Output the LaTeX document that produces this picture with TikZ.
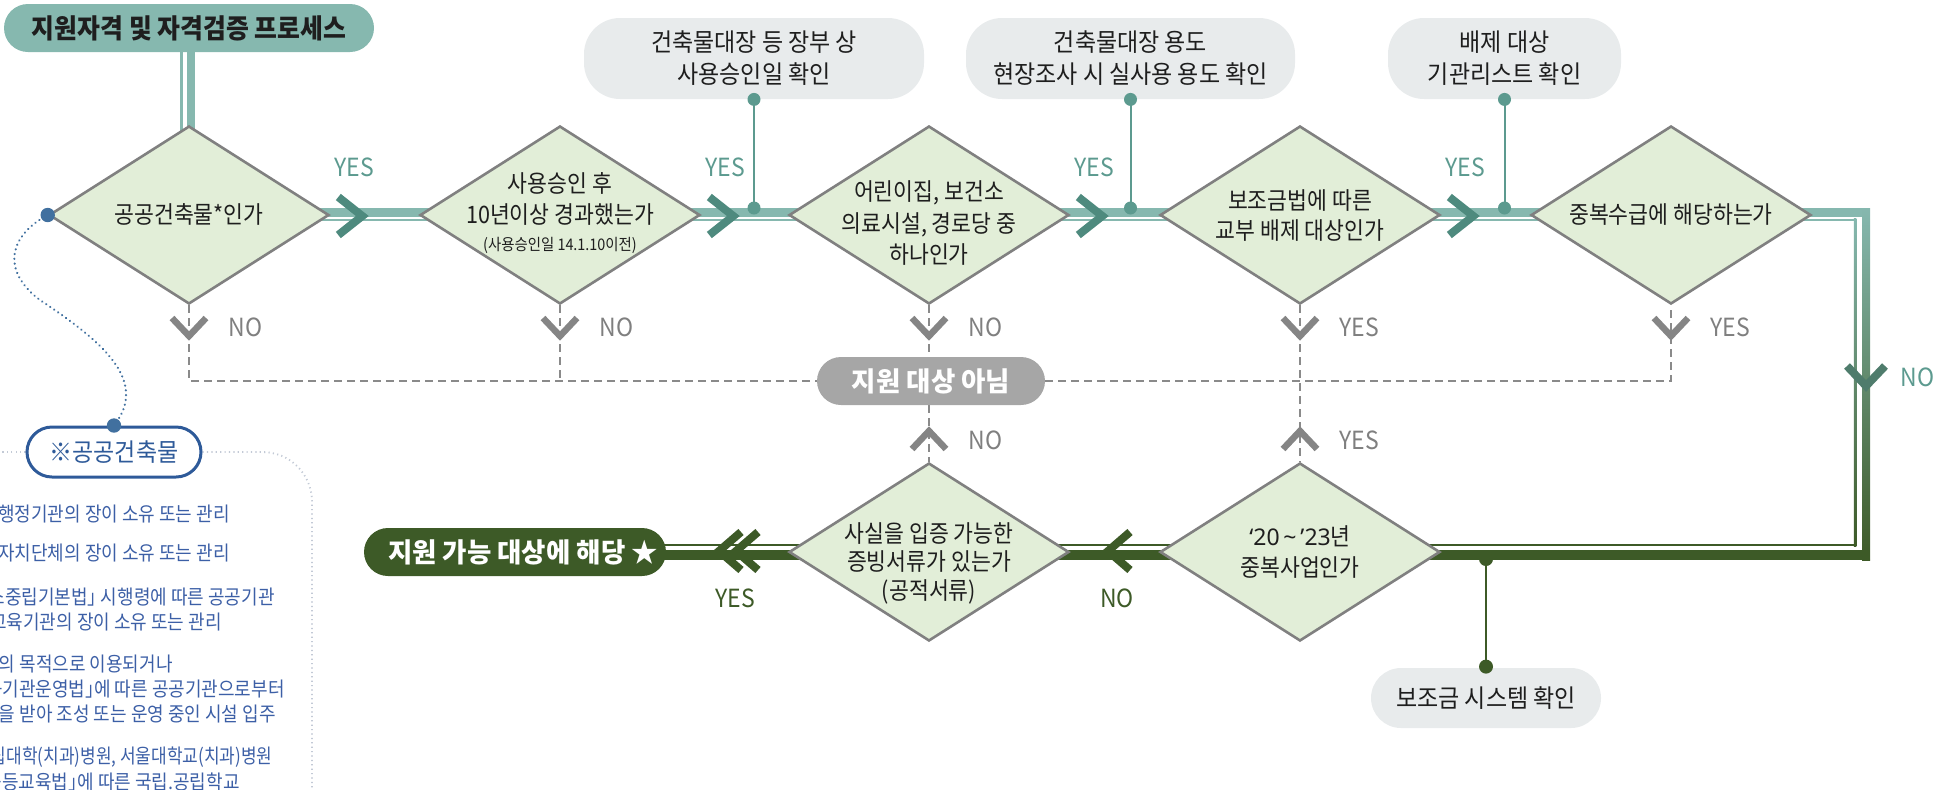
\documentclass[tikz,border=0pt]{standalone}
\usepackage{fontspec}
\setmainfont[FakeStretch=0.86]{Noto Sans CJK KR}
\newfontfamily\titlefont[FakeStretch=0.92]{Noto Sans CJK KR}
\newfontfamily\pillfont[FakeStretch=0.98]{Noto Sans CJK KR}
\newfontfamily\dfont[FakeStretch=0.9]{Noto Sans CJK KR}
\newfontfamily\dnarrow[FakeStretch=0.85]{Noto Sans CJK KR}
\newfontfamily\labfont[FakeStretch=0.92]{Noto Sans CJK KR}
\newfontfamily\qfont{Noto Sans}
\newcommand{\cbr}{」\kern-0.45em}
\usetikzlibrary{shapes.geometric,calc,backgrounds}
\definecolor{tealL}{HTML}{86B8AF}
\definecolor{tealD}{HTML}{4E8A7E}
\definecolor{tealT}{HTML}{5C9A8F}
\definecolor{dgreen}{HTML}{3D5A27}
\definecolor{dfill}{HTML}{E2EED8}
\definecolor{dline}{HTML}{808080}
\definecolor{notefill}{HTML}{E8EBEC}
\definecolor{grayP}{HTML}{A6A6A6}
\definecolor{grayL}{HTML}{8A8A8A}
\definecolor{grayC}{HTML}{858585}
\definecolor{grayT}{HTML}{7F7F7F}
\definecolor{blueD}{HTML}{2E5A99}
\definecolor{blueT}{HTML}{3C5FA6}
\definecolor{blueDot}{HTML}{41709F}
\definecolor{frameC}{HTML}{C3CAD6}
\definecolor{txt}{HTML}{1E1E1E}
\definecolor{chevR}{HTML}{4F7C6C}
\begin{document}
\begin{tikzpicture}[x=0.5pt,y=-0.5pt,
  dia/.style={shape=diamond, draw=dline, line width=1.3pt, fill=dfill, minimum width=140pt, minimum height=89pt, inner sep=0pt},
  dtext/.style={align=center, inner sep=0pt, font=\dfont\fontsize{12pt}{15.5pt}\selectfont, text=txt},
  notebox/.style={fill=notefill, rounded corners=18pt, minimum height=40.5pt, inner sep=0pt, align=center, font=\titlefont\fontsize{12.5pt}{16pt}\selectfont, text=txt},
  lab/.style={font=\labfont\fontsize{12.5pt}{14pt}\selectfont, inner sep=0pt},
  chevT/.style={draw=tealD, line width=4pt},
  chevG/.style={draw=grayC, line width=3.25pt},
  chevD/.style={draw=dgreen, line width=4pt},
  dashC/.style={draw=grayL, line width=1pt, dash pattern=on 4pt off 2.5pt},
  thickT/.style={draw=tealL, line width=4.5pt},
  thinT/.style={draw=tealL, line width=1.25pt},
  thickG/.style={draw=dgreen, line width=5pt},
  thinG/.style={draw=dgreen, line width=1.25pt},
  tconn/.style={draw=tealT, line width=1pt},
  pill/.style={rounded corners=12pt, minimum height=24pt, inner sep=0pt, font=\pillfont\bfseries\fontsize{13.5pt}{15pt}\selectfont, text=white},
  listt/.style={inner sep=0pt, anchor=east, text=blueT, font=\dfont\fontsize{10pt}{12pt}\selectfont},
]
\useasboundingbox (0,0) rectangle (1952,789);

% title
\node[fill=tealL, rounded corners=12pt, minimum width=185pt, minimum height=24pt, inner sep=0pt,
  font=\titlefont\bfseries\fontsize{13.5pt}{15pt}\selectfont, text=txt] (title) at (189,28) {지원자격 및 자격검증 프로세스};

% diamonds
\node[dia] (d1) at (189,215) {};
\node[dia] (d2) at (560,215) {};
\node[dia] (d3) at (929,215) {};
\node[dia] (d4) at (1300,215) {};
\node[dia] (d5) at (1671,215) {};
\node[dia] (d6) at (1300,552) {};
\node[dia] (d7) at (929,552) {};

\node[dtext] (t1) at (189,214) {공공건축물*인가};
\node[dtext] (t2) at (560,199) {사용승인 후\\10년이상 경과했는가};
\node[dtext, font=\dfont\fontsize{8pt}{10pt}\selectfont] (t2s) at (560,245) {(사용승인일 14.1.10이전)};
\node[dtext, font=\dfont\fontsize{12pt}{15.75pt}\selectfont] (t3) at (929,223) {어린이집, 보건소\\의료시설, 경로당 중\\하나인가};
\node[dtext, font=\dfont\fontsize{12pt}{15pt}\selectfont] (t4) at (1300,215) {보조금법에 따른\\교부 배제 대상인가};
\node[dtext] (t5) at (1671,215) {중복수급에 해당하는가};
\node[dtext] (t6) at (1300,552) {{\qfont\fontsize{11.5pt}{14pt}\selectfont ‘20\,\char"007E\,’23}년\\중복사업인가};
\node[dtext, font=\dfont\fontsize{12pt}{14.25pt}\selectfont] (t7) at (929,563) {사실을 입증 가능한\\증빙서류가 있는가\\(공적서류)};

% notes
\node[notebox, minimum width=170pt] (n1) at (754,58.5) {건축물대장 등 장부 상\\사용승인일 확인};
\node[notebox, minimum width=164.5pt] (n2) at (1130.5,58.5) {건축물대장 용도\\현장조사 시 실사용 용도 확인};
\node[notebox, minimum width=116.5pt] (n3) at (1504.5,58.5) {배제 대상\\기관리스트 확인};
\node[notebox, minimum width=115pt, minimum height=30pt, rounded corners=15pt, font=\titlefont\fontsize{12.5pt}{14pt}\selectfont] (n4) at (1486,698) {보조금 시스템 확인};

% pills
\node[pill, fill=grayP, minimum width=114pt] (p0) at (931,381) {지원 대상 아님};
\node[pill, fill=dgreen, minimum width=151pt] (pg) at (515,552) {\hspace*{8pt}지원 가능 대상에 해당 ★};
\node[draw=blueD, line width=1.5pt, fill=white, rounded corners=12.5pt, minimum width=87pt, minimum height=25pt,
  inner sep=0pt, font=\titlefont\fontsize{12.5pt}{13pt}\selectfont, text=blueD] (pb) at (114,452) {※공공건축물};

\coordinate (rtop) at (1866,215);
\coordinate (rbot) at (1866,552);

\begin{scope}[on background layer]
  % title to d1
  \draw[tealL, line width=4pt] ([xshift=1pt,yshift=5pt]title.south) -- ([xshift=1pt,yshift=-6pt]d1.north);
  \draw[thinT] ([xshift=-3.75pt,yshift=5pt]title.south) -- ([xshift=-3.75pt,yshift=-6pt]d1.north);
  % top row
  \foreach \a/\b in {d1/d2,d2/d3,d3/d4,d4/d5}{
    \draw[thickT] ([xshift=-8pt,yshift=1.25pt]\a.east) -- ([xshift=8pt,yshift=1.25pt]\b.west);
    \draw[thinT] ([xshift=-8pt,yshift=-2.5pt]\a.east) -- ([xshift=8pt,yshift=-2.5pt]\b.west);
  }
  % right loop
  \draw[thickT] ([xshift=-8pt,yshift=1.25pt]d5.east) -- ([xshift=2pt,yshift=1.25pt]rtop);
  \draw[thinT] ([xshift=-8pt,yshift=-2.5pt]d5.east) -- ([xshift=-4.875pt,yshift=-2.5pt]rtop);
  \shade[top color=tealL, bottom color=dgreen] ([xshift=-2pt,yshift=3.5pt]rtop) rectangle ([xshift=2pt,yshift=-4pt]rbot);
  \shade[top color=tealL, bottom color=dgreen] ([xshift=-6.125pt,yshift=-1.875pt]rtop) rectangle ([xshift=-4.875pt,yshift=2.875pt]rbot);
  \draw[thickG] ([xshift=2pt,yshift=-1.5pt]rbot) -- ([xshift=-8pt,yshift=-1.5pt]d6.east);
  \draw[thinG] ([xshift=-4.875pt,yshift=3.5pt]rbot) -- ([xshift=-8pt,yshift=3.5pt]d6.east);
  % bottom row
  \draw[thickG] ([xshift=8pt,yshift=-1.5pt]d6.west) -- ([xshift=-8pt,yshift=-1.5pt]d7.east);
  \draw[thinG] ([xshift=8pt,yshift=3.5pt]d6.west) -- ([xshift=-8pt,yshift=3.5pt]d7.east);
  \draw[thickG] ([xshift=8pt,yshift=-1.5pt]d7.west) -- ([xshift=-6pt,yshift=-1.5pt]pg.east);
  \draw[thinG] ([xshift=8pt,yshift=3.5pt]d7.west) -- ([xshift=-6pt,yshift=3.5pt]pg.east);
  % dashed NO paths
  \draw[dashC] (d1.south) -- (d1.south |- p0.center) -- (p0.west);
  \draw[dashC] (d2.south) -- (d2.south |- p0.center);
  \draw[dashC] (d3.south) -- (d3.south |- p0.north);
  \draw[dashC] (p0.east) -- (d5.south |- p0.center) -- (d5.south);
  \draw[dashC] (d4.south) -- (d6.north);
  \draw[dashC] (p0.south -| d7.north) -- (d7.north);
  % frame of the footnote
  \draw[frameC, line width=0.9pt, dash pattern=on 0.6pt off 1.6pt] (pb.west) -- (0,452);
  \draw[frameC, line width=0.9pt, dash pattern=on 0.6pt off 1.6pt] (pb.east) -- (262,452) .. controls (290,452) and (312,474) .. (312,502) -- (312,789);
\end{scope}

% teal chevrons and YES labels
\foreach \d/\i in {d1/1,d2/2,d3/3,d4/4}{
  \draw[chevT] ([xshift=4pt,yshift=9pt]\d.east) -- ([xshift=16pt,yshift=-0.5pt]\d.east) -- ([xshift=4pt,yshift=-10pt]\d.east);
  \node[lab, text=tealT] (yes\i) at ([xshift=12pt,yshift=24pt]\d.east) {YES};
}
% grey chevrons below the top row
\foreach \x/\t in {189/NO,560/NO,929/NO,1300/YES,1671/YES}{
  \draw[chevG] (\x-17,318) -- (\x,336) -- (\x+17,318);
  \node[lab, text=grayT, anchor=west] (gl\x) at (\x+39,327) {\t};
}
% grey chevrons up
\draw[chevG] (912,449) -- (929,431) -- (946,449);
\node[lab, text=grayT, anchor=west] (gu1) at (968,440) {NO};
\draw[chevG] (1283,449) -- (1300,431) -- (1317,449);
\node[lab, text=grayT, anchor=west] (gu2) at (1339,440) {YES};
% right V
\draw[chevR, line width=4pt] (1847,366) -- (1866,386) -- (1885,366);
\node[lab, text=tealT, anchor=west] (rno) at (1900,377) {NO};
% bottom chevrons
\draw[chevD] (1130,532) -- (1108,551) -- (1130,570);
\node[lab, text=dgreen] (bno) at (1117,598) {NO};
\draw[chevD] (741,532) -- (719,551) -- (741,570);
\draw[chevD] (758,532) -- (736,551) -- (758,570);
\node[lab, text=dgreen] (byes) at (735,598) {YES};

% note connectors
\draw[tconn] (n1.south) -- ([yshift=3.5pt]n1.south |- d3.west);
\fill[tealT] (n1.south) circle (3.25pt);
\fill[tealT] ([yshift=3.5pt]n1.south |- d3.west) circle (3.25pt);
\draw[tconn] (n2.south) -- ([yshift=3.5pt]n2.south |- d4.west);
\fill[tealT] (n2.south) circle (3.25pt);
\fill[tealT] ([yshift=3.5pt]n2.south |- d4.west) circle (3.25pt);
\draw[tconn] (n3.south) -- ([yshift=3.5pt]n3.south |- d5.west);
\fill[tealT] (n3.south) circle (3.25pt);
\fill[tealT] ([yshift=3.5pt]n3.south |- d5.west) circle (3.25pt);
\draw[dgreen, line width=1pt] (n4.north) -- ([yshift=-3.5pt]n4.north |- d6.east);
\fill[dgreen] ([yshift=0.5pt]n4.north) circle (3.5pt);
\fill[dgreen] ([yshift=-3.5pt]n4.north |- d6.east) circle (3.5pt);

% blue dotted link
\draw[blueDot, line width=1.2pt, dash pattern=on 0.01pt off 2.4pt, line cap=round]
  (d1.west) .. controls (10,235) and (0,270) .. (40,300) .. controls (100,340) and (150,380) .. (pb.north);
\fill[blueDot] (d1.west) circle (3.6pt);
\fill[blueDot] (pb.north) circle (3.6pt);

% footnote list (cut at the left border)
\begin{scope}
  \clip (0,0) rectangle (1952,789);
  \node[listt] (L1) at (230,514) {중앙행정기관의 장이 소유 또는 관리};
  \node[listt] (L2) at (230,553) {지방자치단체의 장이 소유 또는 관리};
  \node[listt] (L3) at (275,597) {「탄소중립기본법\cbr{} 시행령에 따른 공공기관};
  \node[listt] (L4) at (222,622) {및 교육기관의 장이 소유 또는 관리};
  \node[listt] (L5) at (173,664) {공공의 목적으로 이용되거나};
  \node[listt] (L6) at (285,689) {「공공기관운영법\cbr{}에 따른 공공기관으로부터};
  \node[listt] (L7) at (276,714) {지원을 받아 조성 또는 운영 중인 시설 입주};
  \node[listt, font=\dnarrow\fontsize{10pt}{12pt}\selectfont] (L8) at (273,757) {국립대학(치과)병원, 서울대학교(치과)병원};
  \node[listt] (L9) at (240,782) {「초·중등교육법\cbr{}에 따른 국립.공립학교};
\end{scope}
\end{tikzpicture}
\end{document}
